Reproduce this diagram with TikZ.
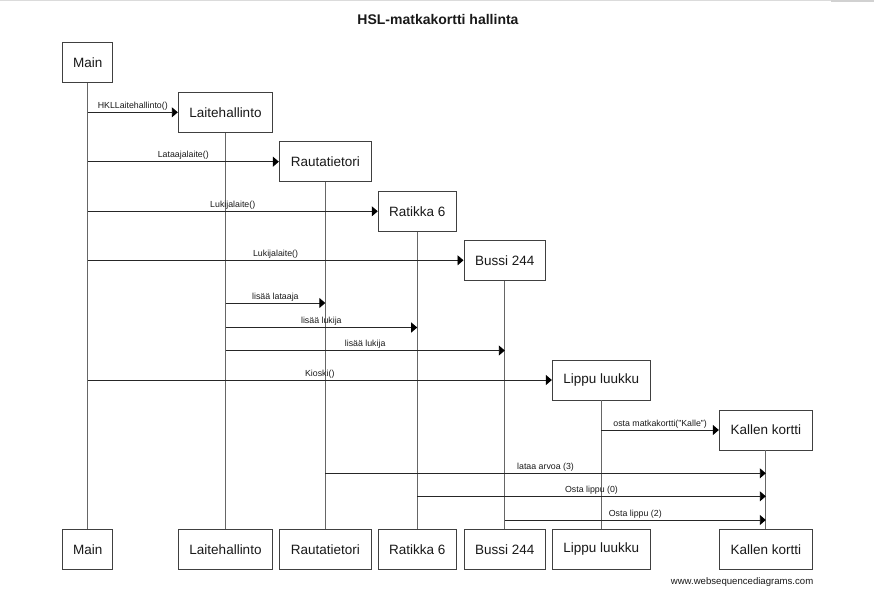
\documentclass[tikz,border=0pt]{standalone}
\usepackage{fontspec}
\setmainfont{Liberation Sans}
\usetikzlibrary{arrows.meta}
\begin{document}
\begin{tikzpicture}[x=1pt,y=-1pt,
  actor/.style={draw=black!75,line width=0.9pt,fill=white,inner sep=0pt,minimum height=40pt,font=\fontsize{13.5}{15}\selectfont,text=black!90},
  life/.style={draw=black!60,line width=0.9pt},
  msg/.style={draw=black!85,line width=0.9pt,-{Triangle[length=6pt,width=10pt,fill=black,color=black]}},
  lbl/.style={above,inner sep=1.6pt,font=\fontsize{8.8}{10}\selectfont,text=black!90}]
\useasboundingbox (0,0) rectangle (874,589);
\draw[black!14,line width=1pt] (0,0.5) -- (831,0.5);
\draw[black!18,line width=2.5pt] (831,1) -- (874,1);
\node[font=\bfseries\fontsize{14}{16}\selectfont,text=black!90] (title) at (438,19) {HSL-matkakortti hallinta};
% top actors
\node[actor,minimum width=50pt] (mainT) at (87.7,62.8) {Main};
\node[actor,minimum width=94.5pt] (lhT) at (225.5,112.3) {Laitehallinto};
\node[actor,minimum width=92pt] (rtT) at (325.3,161.7) {Rautatietori};
\node[actor,minimum width=78pt] (raT) at (417.2,211.3) {Ratikka 6};
\node[actor,minimum width=81.7pt] (buT) at (504.8,260.3) {Bussi 244};
\node[actor,minimum width=98pt] (liT) at (601.3,380) {Lippu luukku};
\node[actor,minimum width=93pt] (kaT) at (765.8,430) {Kallen kortti};
% bottom actors
\node[actor,minimum width=50pt] (mainB) at (87.7,549.3) {Main};
\node[actor,minimum width=94.5pt] (lhB) at (225.5,549.3) {Laitehallinto};
\node[actor,minimum width=92pt] (rtB) at (325.3,549.3) {Rautatietori};
\node[actor,minimum width=78pt] (raB) at (417.2,549.3) {Ratikka 6};
\node[actor,minimum width=81.7pt] (buB) at (504.8,549.3) {Bussi 244};
\node[actor,minimum width=98pt] (liB) at (601.3,549.3) {Lippu luukku};
\node[actor,minimum width=93pt] (kaB) at (765.8,549.3) {Kallen kortti};
% lifelines
\draw[life] (mainT.south) -- (mainB.north);
\draw[life] (lhT.south) -- (lhB.north);
\draw[life] (rtT.south) -- (rtB.north);
\draw[life] (raT.south) -- (raB.north);
\draw[life] (buT.south) -- (buB.north);
\draw[life] (liT.south) -- (liB.north);
\draw[life] (kaT.south) -- (kaB.north);
% creation messages
\draw[msg] (mainT.south |- lhT.west) -- (lhT.west) node[lbl,midway] {HKLLaitehallinto()};
\draw[msg] (mainT.south |- rtT.west) -- (rtT.west) node[lbl,midway] {Lataajalaite()};
\draw[msg] (mainT.south |- raT.west) -- (raT.west) node[lbl,midway] {Lukijalaite()};
\draw[msg] (mainT.south |- buT.west) -- (buT.west) node[lbl,midway] {Lukijalaite()};
% lifeline messages
\draw[msg] (lhT.south |- 0,303) -- (rtT.south |- 0,303) node[lbl,midway] {lisää lataaja};
\draw[msg] (lhT.south |- 0,327.5) -- (raT.south |- 0,327.5) node[lbl,midway] {lisää lukija};
\draw[msg] (lhT.south |- 0,350.5) -- (buT.south |- 0,350.5) node[lbl,midway] {lisää lukija};
\draw[msg] (mainT.south |- liT.west) -- (liT.west) node[lbl,midway] {Kioski()};
\draw[msg] (liT.south |- kaT.west) -- (kaT.west) node[lbl,midway] {osta matkakortti("Kalle")};
\draw[msg] (rtT.south |- 0,473.3) -- (kaT.south |- 0,473.3) node[lbl,midway] {lataa arvoa (3)};
\draw[msg] (raT.south |- 0,496.3) -- (kaT.south |- 0,496.3) node[lbl,midway] {Osta lippu (0)};
\draw[msg] (buT.south |- 0,520) -- (kaT.south |- 0,520) node[lbl,midway] {Osta lippu (2)};
\node[anchor=east,inner sep=0pt,font=\fontsize{9.6}{11}\selectfont,text=black!90] (wsd) at (813.5,582.5) {www.websequencediagrams.com};
\end{tikzpicture}
\end{document}
